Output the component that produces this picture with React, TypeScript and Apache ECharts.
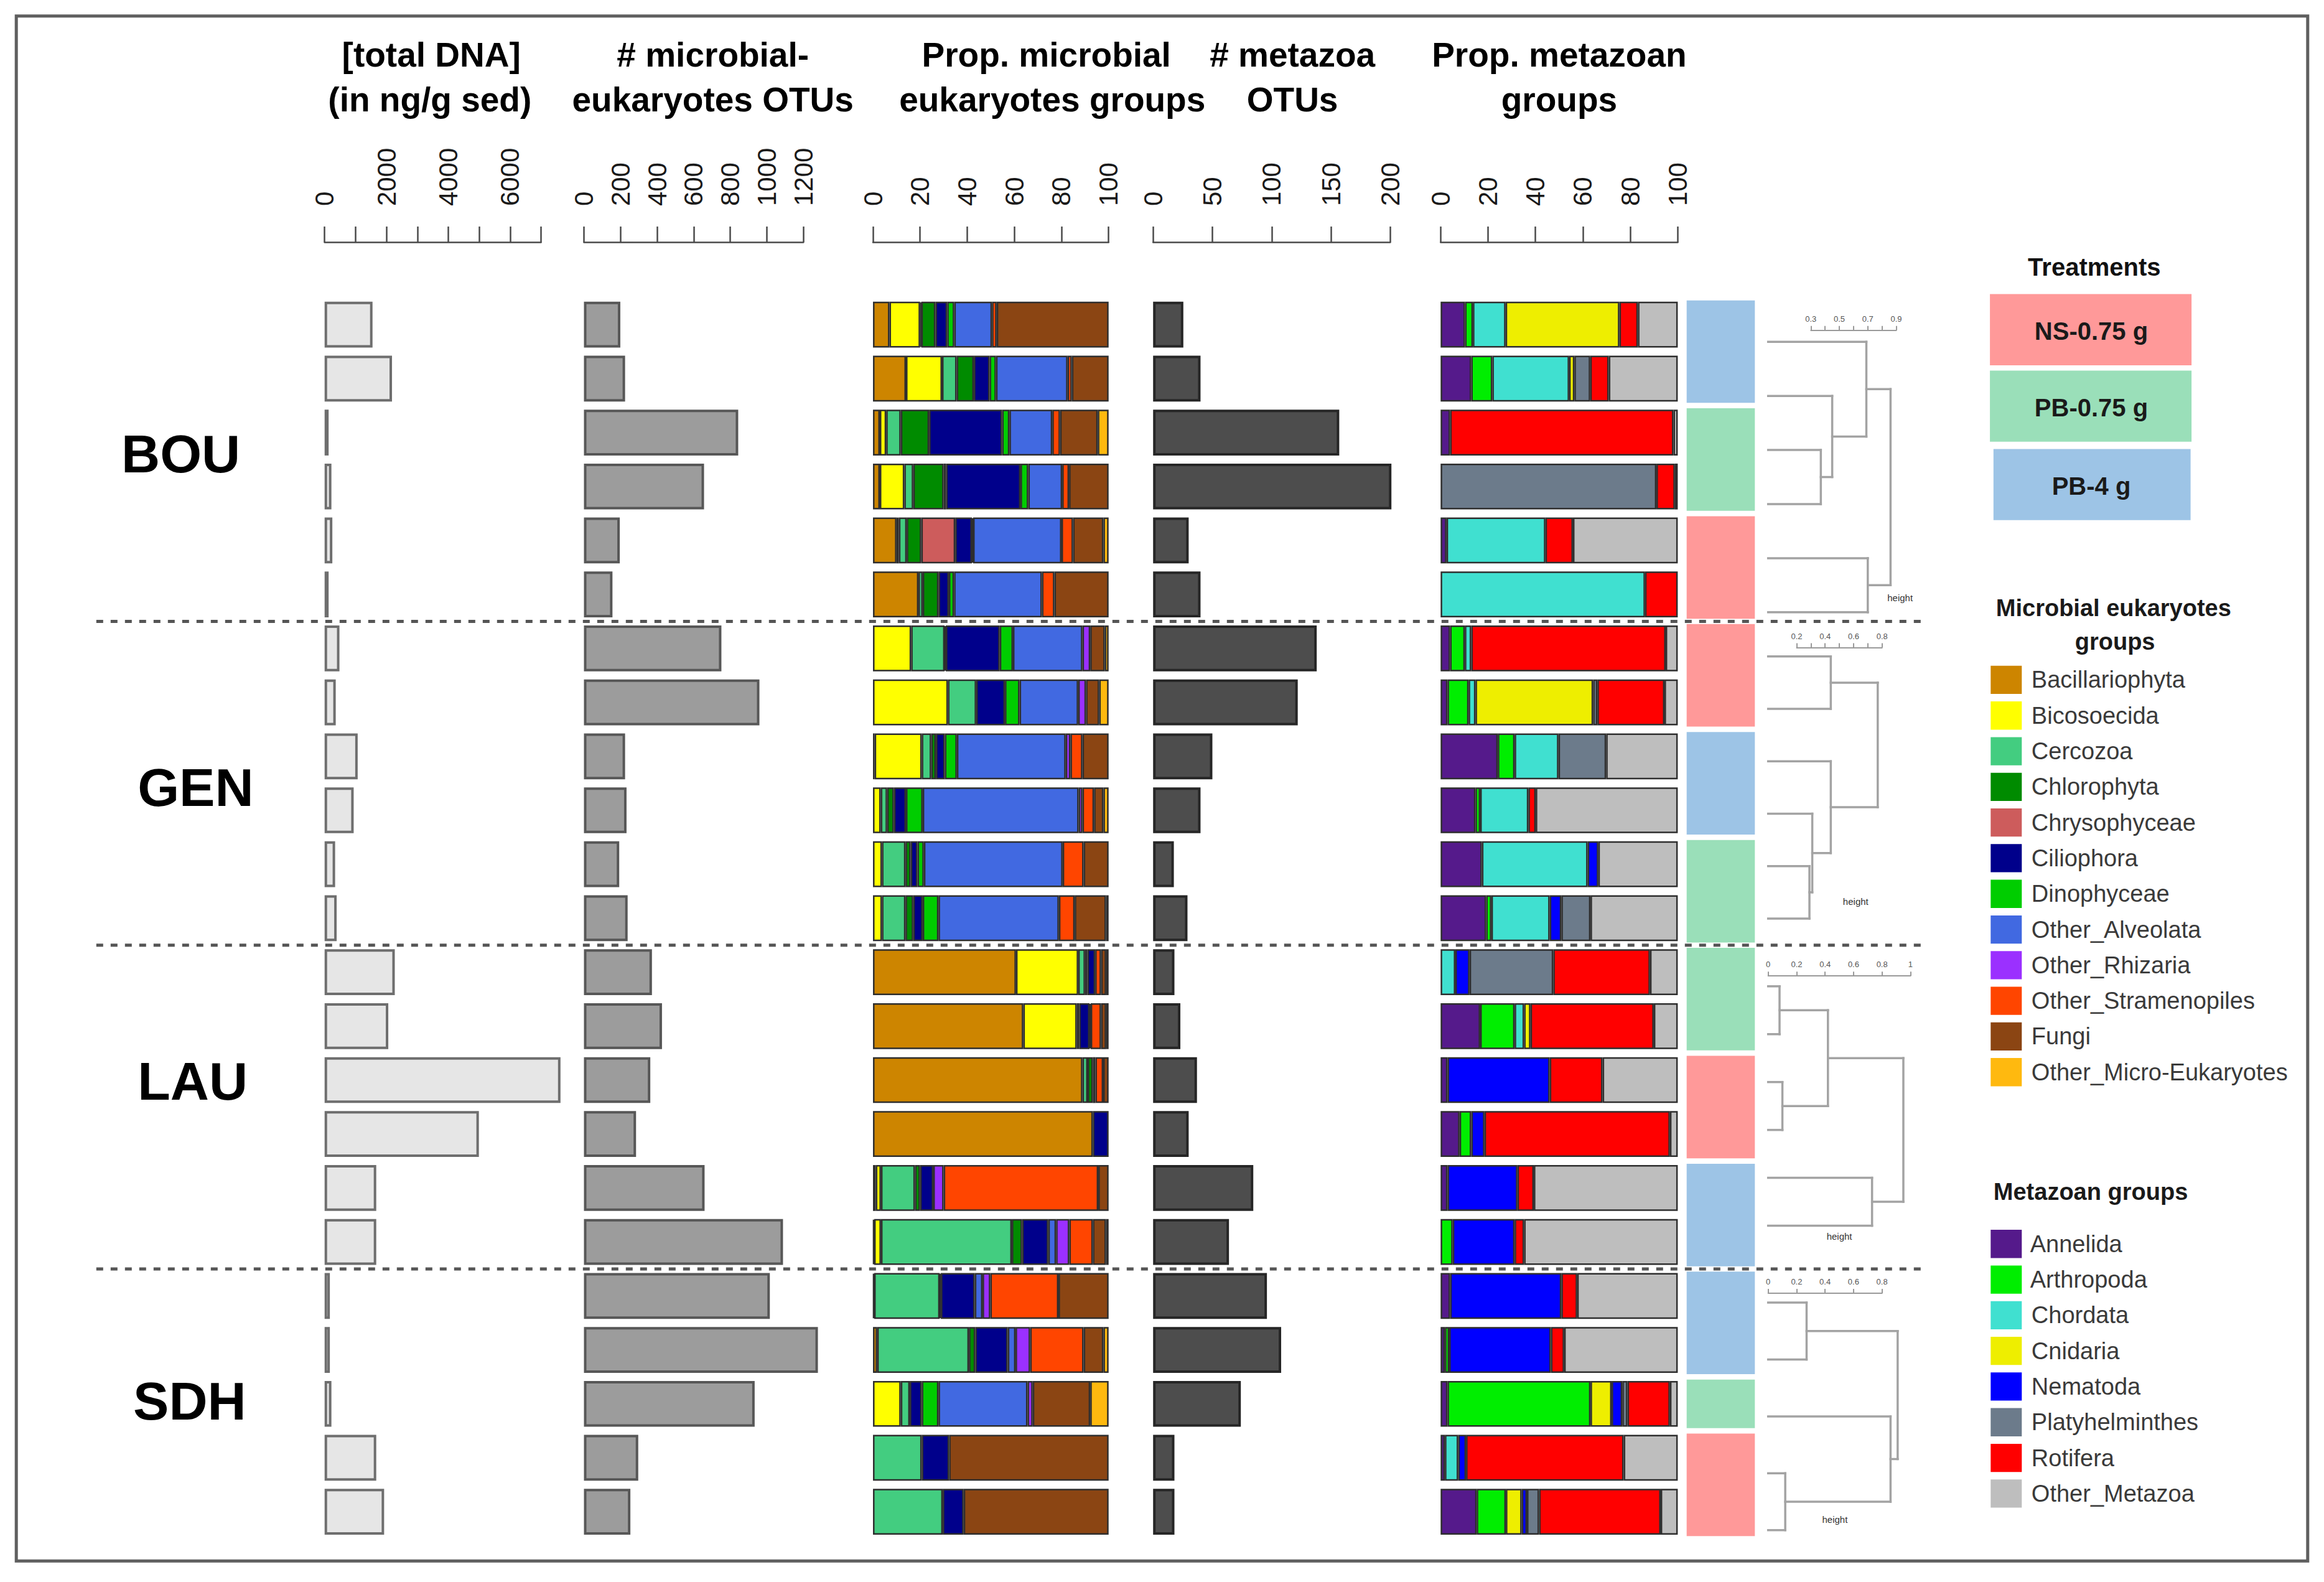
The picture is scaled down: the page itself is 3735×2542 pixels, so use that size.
import React, { useEffect, useRef } from "react";
import * as echarts from "echarts";

const W = 3735;
const H = 2542;
const S = W / 1568;
const px = (v: number) => Math.round(v * S * 10) / 10;
const FONT = '"Liberation Sans", Arial, sans-serif';

// ---------------- data ----------------
const sites = ["BOU", "GEN", "LAU", "SDH"];
const siteSizes = [6, 6, 6, 5];
const samples = sites.flatMap((s, i) =>
  Array.from({ length: siteSizes[i] }, (_, k) => `${s}-${k + 1}`)
);

const totalDNA = [1550, 2180, 130, 220, 250, 130, 480, 360, 1070, 940, 340, 390, 2270, 2060, 7630, 4990, 1670, 1670, 170, 170, 220, 1670, 1925];
const microbialOTUs = [199, 225, 844, 657, 196, 156, 752, 960, 225, 233, 193, 239, 372, 427, 363, 285, 660, 1089, 1017, 1280, 934, 297, 254];
const metazoaOTUs = [25.5, 40, 157, 201, 30, 40, 138, 122, 50, 40, 17.5, 29, 18, 23, 37, 30, 84.5, 64, 96, 108, 74, 18, 18];

const dnaAxis = [0, 7000, 1000];
const microbialOTUAxis = [0, 1200, 200];
const propAxis = [0, 100, 20];
const metazoaOTUAxis = [0, 200, 50];

const microbialGroups = ["Bacillariophyta", "Bicosoecida", "Cercozoa", "Chlorophyta", "Chrysophyceae", "Ciliophora", "Dinophyceae", "Other_Alveolata", "Other_Rhizaria", "Other_Stramenopiles", "Fungi", "Other_Micro-Eukaryotes"];
const microbialColors = ["#CD8500", "#FFFF00", "#43CD80", "#008B00", "#CD5C5C", "#00008B", "#00CD00", "#4169E1", "#9B30FF", "#FF4500", "#8B4513", "#FFB90F"];

const bouMicrobial = [
  [7, 13, 0.5, 6, 0, 5, 3, 16, 0, 2, 47.5, 0],
  [14, 15.3, 6.2, 7.3, 0, 6.7, 2.7, 30.4, 0, 1.8, 15.6, 0],
  [2.9, 2.7, 6.2, 12, 0, 31, 3.1, 18.2, 0, 3.3, 16, 4.6],
  [2.9, 10.4, 3.8, 12.9, 1, 31.6, 3.3, 14.4, 0, 2.9, 16.8, 0],
  [10, 1, 3.3, 6.2, 14.4, 7.1, 0.5, 37.5, 0, 4.9, 12.9, 2.2],
  [19.3, 0, 1.8, 6.7, 0, 4.4, 2.2, 37.3, 0, 5.3, 23, 0],
];
const genMicrobial = [
  [0, 16.2, 14.2, 0.5, 0, 22.9, 5.6, 29.5, 3.3, 0, 6.2, 1.6],
  [0, 31.8, 12, 0, 0, 12.2, 6.2, 24.9, 3.3, 0, 5.6, 4],
  [0.7, 20, 4, 2, 0, 3.8, 5.1, 46.2, 2, 5.1, 11.1, 0],
  [0, 3.3, 2.7, 2.9, 0, 5.1, 7.1, 66.2, 1.6, 4.9, 4, 2.2],
  [0, 3.8, 10, 2.2, 0, 2.9, 2.7, 58.9, 0, 8.9, 10.6, 0],
  [0, 3.8, 10, 3.3, 0, 4, 6.7, 51.1, 0, 6.7, 13.3, 1.1],
];
const lauMicrobial = [
  [60.7, 26.4, 2.9, 1, 0, 3.3, 0, 0, 0, 2.5, 2.2, 1],
  [63.8, 22.7, 1, 0, 0, 4.4, 0.5, 0, 0, 4.4, 2.2, 1],
  [88.9, 0, 2.2, 2.2, 0, 1.1, 0, 0, 0, 3.3, 2.3, 0],
  [93.3, 0, 0, 0, 0, 6.7, 0, 0, 0, 0, 0, 0],
  [1.2, 2.2, 14.4, 2.2, 0, 5.6, 0, 0, 4.4, 65.6, 4.4, 0],
  [0.5, 2.9, 55.5, 4.4, 0, 11.1, 0, 3.3, 5.6, 10, 5.6, 1.1],
];
const sdhMicrobial = [
  [0.5, 0, 27.8, 0.5, 0, 14.4, 0, 3.3, 3.3, 28.9, 21.3, 0],
  [1.8, 0, 38.9, 2.7, 0, 13.8, 0, 3.3, 6.2, 22.7, 8.4, 2.2],
  [0, 11.8, 3.8, 0, 0, 5.1, 7.1, 37.8, 2.2, 0, 24.4, 7.8],
  [0, 0, 20.7, 0, 0, 11.6, 0, 0, 0, 0, 67.7, 0],
  [0, 0, 29.6, 0, 0, 8.9, 0, 0, 0, 0, 61.5, 0],
];

const metazoanGroups = ["Annelida", "Arthropoda", "Chordata", "Cnidaria", "Nematoda", "Platyhelminthes", "Rotifera", "Other_Metazoa"];
const metazoanColors = ["#551A8B", "#00EE00", "#40E0D0", "#EEEE00", "#0000FF", "#6C7B8B", "#FF0000", "#BEBEBE"];

const bouMetazoan = [
  [10.3, 3.3, 13.8, 48, 0, 0, 7.8, 16.8],
  [12.9, 8.9, 32.4, 2.2, 0, 6.7, 7.8, 29.1],
  [4, 0, 0, 0, 0, 0, 94.2, 1.8],
  [0, 0, 0, 0, 0, 91, 7.8, 1.2],
  [2.5, 0, 41.7, 0, 0, 0, 11.6, 44.2],
  [0, 0, 86.2, 0, 0, 0, 13.8, 0],
];
const genMetazoan = [
  [4, 6.2, 2.7, 0, 0, 0, 82, 5.1],
  [2.9, 8.9, 2.9, 49.6, 0, 1.8, 28.3, 5.6],
  [24.1, 7.1, 18.5, 0, 0, 20.1, 0, 30.2],
  [14.7, 2, 20.3, 0, 0, 0, 3.1, 59.9],
  [17.4, 0, 44.6, 0, 4.5, 0, 0, 33.5],
  [19.2, 2.2, 24.6, 0, 4.9, 12.3, 0, 36.8],
];
const lauMetazoan = [
  [0, 0, 6.2, 0, 6, 35.3, 40.8, 11.7],
  [16.7, 14.5, 4, 2.7, 0, 0, 52, 10.1],
  [2.9, 0, 0, 0, 43.1, 0, 22.3, 31.7],
  [8, 4.9, 0, 0, 5.6, 0, 78.2, 3.3],
  [2.9, 0, 0, 0, 29.5, 0, 6.9, 60.7],
  [0, 5.1, 0, 0, 26.1, 0, 4, 64.8],
];
const sdhMetazoan = [
  [4, 0, 0, 0, 46.9, 0, 6.7, 42.4],
  [1.8, 1.8, 0, 0, 42.9, 0, 5.6, 47.9],
  [2.9, 60.3, 0, 8.9, 4.5, 2.2, 17.9, 3.3],
  [1.8, 0, 5.6, 0, 3.3, 0, 66.5, 22.8],
  [15.2, 12.3, 0, 6.7, 2.2, 5.1, 51.3, 7.2],
];

const treatments = ["NS-0.75 g", "PB-0.75 g", "PB-4 g"];
const treatmentColors = ["#FF9999", "#9ADFB9", "#9DC4E6"];
const sampleTreatment = [
  "PB-4 g", "PB-4 g", "PB-0.75 g", "PB-0.75 g", "NS-0.75 g", "NS-0.75 g",
  "NS-0.75 g", "NS-0.75 g", "PB-4 g", "PB-4 g", "PB-0.75 g", "PB-0.75 g",
  "PB-0.75 g", "PB-0.75 g", "NS-0.75 g", "NS-0.75 g", "PB-4 g", "PB-4 g",
  "PB-4 g", "PB-4 g", "PB-0.75 g", "NS-0.75 g", "NS-0.75 g",
];

// dendrograms (hclust-like merges: negative = leaf, positive = earlier merge; third = height)
const bouMerges = [[-3, -4, 0.37], [-2, 1, 0.45], [-1, 2, 0.69], [-5, -6, 0.7], [3, 4, 0.86]];
const genMerges = [[-1, -2, 0.44], [-5, -6, 0.29], [-4, 2, 0.31], [-3, 3, 0.44], [1, 4, 0.77]];
const lauMerges = [[-1, -2, 0.08], [-3, -4, 0.1], [1, 2, 0.42], [-5, -6, 0.73], [3, 4, 0.95]];
const sdhMerges = [[-1, -2, 0.27], [-4, -5, 0.12], [-3, 2, 0.86], [1, 3, 0.91]];
const dendroScales = [[0.3, 0.9, 0.1], [0.2, 0.8, 0.1], [0, 1, 0.2], [0, 0.8, 0.2]];

// ---------------- layout (display units of the 1568px-wide reference) ----------------
const ROW_TOP = 200.8;
const ROW_PITCH = 36.4;
const NROWS = samples.length;
const panels = [
  { left: 219, width: 146 },
  { left: 394, width: 148 },
  { left: 589, width: 159 },
  { left: 778, width: 160 },
  { left: 972, width: 160 },
  { left: 1138, width: 46 },
];
const DENDRO_LEFT = 1193;
const DENDRO_W = 96;
const dendroBoxes = [
  { top: 230.6, bottom: 413 },
  { top: 442.8, bottom: 619.6 },
  { top: 665.3, bottom: 826.8 },
  { top: 878.7, bottom: 1032.2 },
];
const scaleY = [222, 436, 657.5, 871.5];
const heightLabels = [[1282, 403], [1252, 608], [1241, 834], [1238, 1025]];

function dendroSegments(merges: number[][]) {
  const pos: number[] = [];
  const hgt: number[] = [];
  const segs: number[][] = [];
  const get = (id: number) => (id < 0 ? { y: -id, h: 0 } : { y: pos[id - 1], h: hgt[id - 1] });
  merges.forEach(([a, b, h], i) => {
    const A = get(a);
    const B = get(b);
    segs.push([A.h, A.y, h, A.y]);
    segs.push([B.h, B.y, h, B.y]);
    segs.push([h, A.y, h, B.y]);
    pos[i] = (A.y + B.y) / 2;
    hgt[i] = h;
  });
  return segs;
}

function buildOption() {
  const microbialRows = [...bouMicrobial, ...genMicrobial, ...lauMicrobial, ...sdhMicrobial];
  const metazoanRows = [...bouMetazoan, ...genMetazoan, ...lauMetazoan, ...sdhMetazoan];

  // treatment groups (contiguous runs within each site)
  const siteOf: number[] = [];
  siteSizes.forEach((n, s) => { for (let k = 0; k < n; k++) siteOf.push(s); });
  const treatGroups: { start: number; end: number; t: number }[] = [];
  sampleTreatment.forEach((t, r) => {
    const ti = treatments.indexOf(t);
    const last = treatGroups[treatGroups.length - 1];
    if (last && last.t === ti && siteOf[last.end] === siteOf[r] && last.end === r - 1) last.end = r;
    else treatGroups.push({ start: r, end: r, t: ti });
  });

  const grids: any[] = [];
  const xAxes: any[] = [];
  const yAxes: any[] = [];
  const series: any[] = [];

  const axisColor = "#4a4a4a";
  const mainX = (gi: number, ax: number[], fmt?: (v: number) => string) => ({
    gridIndex: gi,
    type: "value",
    position: "top",
    offset: px(ROW_TOP - 163.5),
    min: ax[0],
    max: ax[1],
    interval: ax[2],
    axisLine: { show: true, lineStyle: { color: axisColor, width: 2.5 } },
    axisTick: { show: true, length: px(10.7), lineStyle: { color: axisColor, width: 2.5 } },
    axisLabel: {
      rotate: -90,
      margin: px(24.5),
      fontSize: 42,
      color: "#1a1a1a",
      fontFamily: FONT,
      formatter: fmt || ((v: number) => String(v)),
    },
    splitLine: { show: false },
  });

  panels.forEach((p, i) => {
    grids.push({ left: px(p.left), width: px(p.width), top: px(ROW_TOP), height: px(ROW_PITCH * NROWS) });
    yAxes.push({ gridIndex: i, type: "category", data: samples, inverse: true, show: false });
  });
  xAxes.push(mainX(0, dnaAxis, (v) => (v % 2000 === 0 ? String(v) : "")));
  xAxes.push(mainX(1, microbialOTUAxis));
  xAxes.push(mainX(2, propAxis));
  xAxes.push(mainX(3, metazoaOTUAxis));
  xAxes.push(mainX(4, propAxis));
  xAxes.push({ gridIndex: 5, type: "value", min: 0, max: 1, show: false });

  const gap = "15%";
  series.push({
    type: "bar", xAxisIndex: 0, yAxisIndex: 0, data: totalDNA, barCategoryGap: gap, clip: false, silent: true,
    itemStyle: { color: "#E6E6E6", borderColor: "#6E6E6E", borderWidth: 4 },
  });
  series.push({
    type: "bar", xAxisIndex: 1, yAxisIndex: 1, data: microbialOTUs, barCategoryGap: gap, clip: false, silent: true,
    itemStyle: { color: "#9C9C9C", borderColor: "#575757", borderWidth: 4 },
  });
  microbialGroups.forEach((g, gi) => {
    series.push({
      name: g, type: "bar", stack: "micro", xAxisIndex: 2, yAxisIndex: 2, barCategoryGap: gap, silent: true,
      data: microbialRows.map((r) => (r[gi] > 0 ? r[gi] : null)),
      itemStyle: { color: microbialColors[gi], borderColor: "#2e2e2e", borderWidth: 2.5 },
    });
  });
  series.push({
    type: "bar", xAxisIndex: 3, yAxisIndex: 3, data: metazoaOTUs, barCategoryGap: gap, clip: false, silent: true,
    itemStyle: { color: "#4D4D4D", borderColor: "#262626", borderWidth: 4 },
  });
  metazoanGroups.forEach((g, gi) => {
    series.push({
      name: g, type: "bar", stack: "meta", xAxisIndex: 4, yAxisIndex: 4, barCategoryGap: gap, silent: true,
      data: metazoanRows.map((r) => (r[gi] > 0 ? r[gi] : null)),
      itemStyle: { color: metazoanColors[gi], borderColor: "#2e2e2e", borderWidth: 2.5 },
    });
  });
  series.push({
    type: "custom", xAxisIndex: 5, yAxisIndex: 5, silent: true,
    data: treatGroups.map((g) => [0, g.start]),
    encode: { x: 0, y: 1 },
    renderItem: (params: any, api: any) => {
      const g = treatGroups[params.dataIndex];
      const band = api.size([0, 1])[1];
      const yA = api.coord([0, g.start])[1];
      const yB = api.coord([0, g.end])[1];
      const cs = params.coordSys;
      return {
        type: "rect",
        shape: { x: cs.x, y: yA - band * 0.45, width: cs.width, height: yB - yA + band * 0.9 },
        style: { fill: treatmentColors[g.t] },
      };
    },
  });

  // dendrograms
  const allMerges = [bouMerges, genMerges, lauMerges, sdhMerges];
  allMerges.forEach((m, k) => {
    const gi = grids.length;
    const box = dendroBoxes[k];
    grids.push({ left: px(DENDRO_LEFT), width: px(DENDRO_W), top: px(box.top), height: px(box.bottom - box.top) });
    xAxes.push({ gridIndex: gi, type: "value", min: 0, max: 1, show: false });
    yAxes.push({ gridIndex: gi, type: "value", min: 1, max: siteSizes[k], inverse: true, show: false });
    series.push({
      type: "custom", xAxisIndex: xAxes.length - 1, yAxisIndex: yAxes.length - 1, silent: true,
      data: dendroSegments(m),
      encode: { x: [0, 2], y: [1, 3] },
      renderItem: (params: any, api: any) => {
        const a = api.coord([api.value(0), api.value(1)]);
        const b = api.coord([api.value(2), api.value(3)]);
        return {
          type: "line",
          shape: { x1: a[0], y1: a[1], x2: b[0], y2: b[1] },
          style: { stroke: "#A3A3A3", lineWidth: 3.5, lineCap: "square" },
        };
      },
    });
  });
  // dendrogram height scales
  dendroScales.forEach((sc, k) => {
    const gi = grids.length;
    grids.push({
      left: px(DENDRO_LEFT + sc[0] * DENDRO_W),
      width: px((sc[1] - sc[0]) * DENDRO_W),
      top: px(scaleY[k]),
      height: 2,
    });
    xAxes.push({
      gridIndex: gi, type: "value", position: "top", min: sc[0], max: sc[1], interval: sc[2],
      axisLine: { show: true, lineStyle: { color: "#9a9a9a", width: 2 } },
      axisTick: { show: true, length: 7, lineStyle: { color: "#9a9a9a", width: 2 } },
      axisLabel: {
        fontSize: 13, margin: 10, color: "#555", fontFamily: FONT,
        formatter: (v: number) => {
          const step = Math.round((v - sc[0]) / sc[2]);
          if (sc[2] < 0.15 && step % 2 === 1) return "";
          return String(Math.round(v * 10) / 10);
        },
      },
      splitLine: { show: false },
    });
    yAxes.push({ gridIndex: gi, type: "value", min: 0, max: 1, show: false });
  });

  // graphics
  const graphic: any[] = [];
  graphic.push({
    type: "rect", silent: true,
    shape: { x: px(11), y: px(10.8), width: px(1557 - 11), height: px(1053 - 10.8) },
    style: { fill: "none", stroke: "#5f5f5f", lineWidth: 5 },
  });
  [6, 12, 18].forEach((r) => {
    const y = px(ROW_TOP + r * ROW_PITCH);
    graphic.push({
      type: "line", silent: true,
      shape: { x1: px(65), y1: y, x2: px(1297), y2: y },
      style: { stroke: "#555", lineWidth: 5, lineDash: [11, 12] },
    });
  });
  const txt = (text: string, x: number, y: number, size: number, weight: string, color: string, align = "center") => ({
    type: "text", silent: true, x: px(x), y: px(y),
    style: {
      text, fill: color, fontSize: size, fontWeight: weight, fontFamily: FONT,
      align, verticalAlign: "middle",
    },
  });
  const headers: [string, number, number][] = [
    ["[total DNA]", 291, 37], ["(in ng/g sed)", 290, 67],
    ["# microbial-", 481, 37], ["eukaryotes OTUs", 481, 67],
    ["Prop. microbial", 706, 37], ["eukaryotes groups", 710, 67],
    ["# metazoa", 872, 37], ["OTUs", 872, 67],
    ["Prop. metazoan", 1052, 37], ["groups", 1052, 67],
  ];
  headers.forEach(([t, x, y]) => graphic.push(txt(t, x, y, 55, "bold", "#000")));
  const siteLabelPos = [[122, 306], [132, 531], [130, 729], [128, 945]];
  sites.forEach((s, i) => graphic.push(txt(s, siteLabelPos[i][0], siteLabelPos[i][1], 86, "bold", "#000")));
  heightLabels.forEach(([x, y]) => graphic.push(txt("height", x, y, 15, "normal", "#333")));

  // treatments legend
  graphic.push(txt("Treatments", 1413, 180, 40, "bold", "#111"));
  const tBoxes = [[1342.6, 198.3, 1478.6, 246.4], [1342.6, 250, 1478.6, 298], [1345, 302.9, 1478, 350.9]];
  treatments.forEach((t, i) => {
    const b = tBoxes[i];
    graphic.push({
      type: "rect", silent: true,
      shape: { x: px(b[0]), y: px(b[1]), width: px(b[2] - b[0]), height: px(b[3] - b[1]) },
      style: { fill: treatmentColors[i] },
    });
    graphic.push(txt(t, 1411, (b[1] + b[3]) / 2 + 1, 40, "bold", "#1a1a1a"));
  });
  graphic.push(txt("Microbial eukaryotes", 1426, 410, 38, "bold", "#1a1a1a"));
  graphic.push(txt("groups", 1427, 433, 38, "bold", "#1a1a1a"));
  graphic.push(txt("Metazoan groups", 1345, 804, 38, "bold", "#1a1a1a", "left"));

  const legendBase = {
    orient: "vertical",
    left: px(1341),
    itemWidth: px(21),
    itemHeight: px(19),
    itemGap: px(24.04) - px(19),
    icon: "rect",
    selectedMode: false,
    itemStyle: { borderWidth: 0 },
    textStyle: { fontSize: 38, color: "#3a3a3a", fontFamily: FONT },
    formatter: (n: string) => " " + n,
  };

  return {
    animation: false,
    backgroundColor: "#ffffff",
    grid: grids,
    xAxis: xAxes,
    yAxis: yAxes,
    series,
    legend: [
      { ...legendBase, top: px(447), data: microbialGroups },
      { ...legendBase, top: px(827.5), data: metazoanGroups },
    ],
    graphic,
  };
}

export default function App() {
  const ref = useRef<HTMLDivElement>(null);
  useEffect(() => {
    const chart = echarts.init(ref.current as HTMLDivElement, null, { renderer: "svg", width: W, height: H });
    chart.setOption(buildOption() as any);
    return () => chart.dispose();
  }, []);
  return (
    <div
      ref={ref}
      style={{ position: "fixed", left: 0, top: 0, width: W, height: H, background: "#fff" }}
    />
  );
}
